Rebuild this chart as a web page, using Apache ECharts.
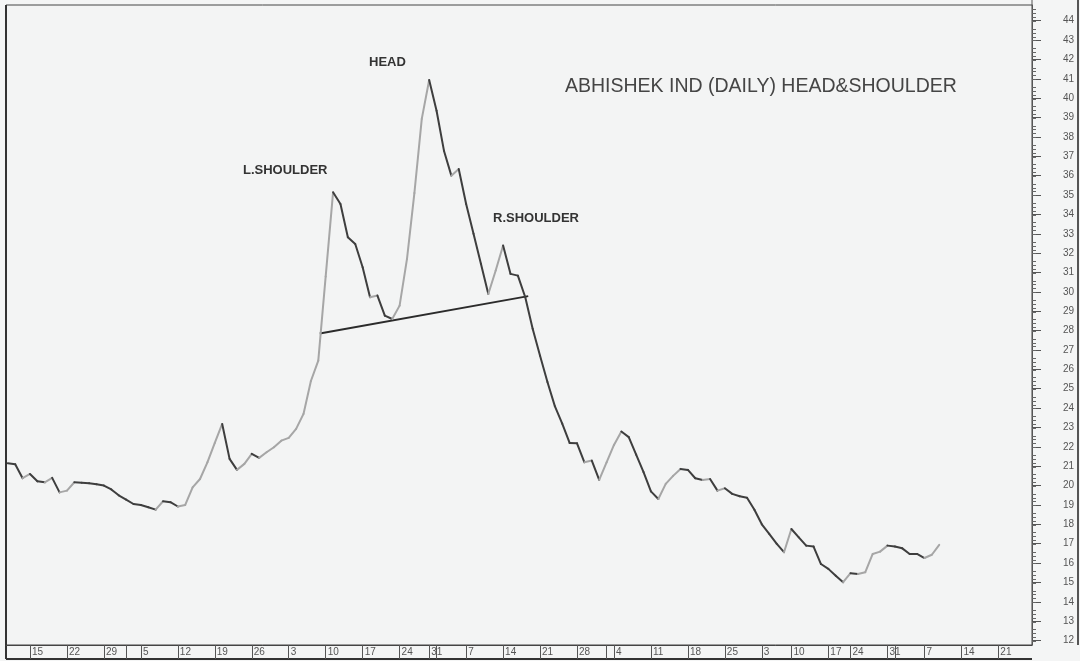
<!DOCTYPE html>
<html><head><meta charset="utf-8">
<script src="https://cdn.jsdelivr.net/npm/echarts@6/dist/echarts.min.js"></script>
<style>html,body{margin:0;padding:0;background:#f4f5f5;}#c{width:1080px;height:661px;}</style>
</head><body><div id="c"></div>
<script>
// Daily closes, trading-day index 0 = 10 Oct 2007
const prices = [
  21.15, 21.1, 20.38, 20.6, 20.22, 20.17, 20.4, 19.65, 19.74, 20.17,
  20.15, 20.12, 20.07, 20.0, 19.8, 19.5, 19.28, 19.05, 19.0, 18.88,
  18.76, 19.19, 19.14, 18.92, 19.0, 19.91, 20.34, 21.2, 22.2, 23.18,
  21.38, 20.81, 21.12, 21.64, 21.43, 21.72, 21.98, 22.32, 22.46, 22.93,
  23.7, 25.4, 26.45, 30.8, 35.14, 34.54, 32.82, 32.47, 31.27, 29.72,
  29.81, 28.77, 28.6, 29.29, 31.7, 35.1, 38.93, 40.94, 39.35, 37.29,
  36.0, 36.34, 34.54, 33.0, 31.45, 29.89, 31.1, 32.39, 30.93, 30.84,
  29.72, 28.1, 26.7, 25.35, 24.1, 23.2, 22.2, 22.18, 21.2, 21.29,
  20.29, 21.2, 22.1, 22.79, 22.5, 21.6, 20.7, 19.7, 19.31, 20.09,
  20.5, 20.86, 20.81, 20.38, 20.29, 20.34, 19.74, 19.86, 19.57, 19.45,
  19.37, 18.75, 18.0, 17.51, 17.0, 16.56, 17.76, 17.33, 16.9, 16.85,
  15.95, 15.7, 15.35, 15.01, 15.48, 15.44, 15.53, 16.47, 16.59, 16.9,
  16.85, 16.76, 16.47, 16.47, 16.26, 16.43, 16.94
];
// Weekly (Monday) ticks: trading-day index and day-of-month label
const weekTickIdx = [3, 8, 13, 18, 23, 28, 33, 38, 43, 48, 53, 57, 62, 67, 72, 77, 82, 87, 92, 97, 102, 106, 111, 114, 119, 124, 129, 134];
const weekTickLabels = ['15', '22', '29', '5', '12', '19', '26', '3', '10', '17', '24', '31', '7', '14', '21', '28', '4', '11', '18', '25', '3', '10', '17', '24', '31', '7', '14', '21'];
// First trading day of a month (extra separator)
const monthStartIdx = [16, 58, 81, 120];
const yTickValues = [12, 13, 14, 15, 16, 17, 18, 19, 20, 21, 22, 23, 24, 25, 26, 27, 28, 29, 30, 31, 32, 33, 34, 35, 36, 37, 38, 39, 40, 41, 42, 43, 44];
// Neckline end points [index, price]
const necklineStart = [42.2, 27.85];
const necklineEnd = [70.4, 29.78];

const titleText = 'ABHISHEK IND (DAILY) HEAD&SHOULDER';
const annotations = ['L.SHOULDER', 'HEAD', 'R.SHOULDER'];

const labelMap = {};
weekTickIdx.forEach((ix, k) => { labelMap[ix] = weekTickLabels[k]; });

const segs = prices.slice(0, -1).map((v, i) => [i, v, prices[i + 1]]);
const UP = '#a6a6a6', DOWN = '#3e3e3e';
const FONT = '"Liberation Sans", Arial, sans-serif';

const chart = echarts.init(document.getElementById('c'), null, {renderer: 'canvas'});
chart.setOption({
  animation: false,
  backgroundColor: '#f4f5f5',
  grid: {left: 6, right: 48, top: 5, bottom: 16, show: true, backgroundColor: '#f3f4f4', borderColor: '#444', borderWidth: 1},
  xAxis: {
    type: 'value', min: -0.246, max: 138.55, position: 'bottom',
    axisLine: {show: true, onZero: false, lineStyle: {color: '#444', width: 1}},
    axisTick: {show: true, customValues: weekTickIdx.concat(monthStartIdx), length: 14, lineStyle: {color: '#555', width: 1}},
    axisLabel: {show: true, customValues: weekTickIdx, align: 'left', margin: 2, padding: [0, 0, 0, 2],
      fontSize: 10, color: '#555', fontFamily: FONT,
      formatter: v => labelMap[Math.round(v)] || ''},
    splitLine: {show: false}
  },
  yAxis: {
    type: 'value', min: 11.77, max: 44.81, interval: 1, position: 'right',
    axisLine: {show: true, onZero: false, lineStyle: {color: '#555', width: 1}},
    axisTick: {show: true, customValues: yTickValues, length: 9, lineStyle: {color: '#555'}},
    minorTick: {show: true, splitNumber: 5, length: 4, lineStyle: {color: '#666'}},
    axisLabel: {show: true, customValues: yTickValues, margin: 31, fontSize: 10, color: '#555',
      fontFamily: '"Liberation Sans Narrow", "Liberation Sans", Arial, sans-serif'},
    splitLine: {show: false},
    minorSplitLine: {show: false}
  },
  series: [{
    type: 'line', data: [necklineStart, necklineEnd], symbol: 'none', z: 3,
    lineStyle: {color: '#2b2b2b', width: 2}
  }, {
    type: 'custom', z: 4,
    encode: {x: 0, y: [1, 2]},
    data: segs,
    renderItem: function (params, api) {
      const i = api.value(0), a = api.value(1), b = api.value(2);
      const p0 = api.coord([i, a]), p1 = api.coord([i + 1, b]);
      return {type: 'line', shape: {x1: p0[0], y1: p0[1], x2: p1[0], y2: p1[1]},
        style: {stroke: b > a ? UP : DOWN, lineWidth: 2, lineCap: 'round'}};
    }
  }],
  graphic: [
    {type: 'line', shape: {x1: 6, y1: 5, x2: 6, y2: 659}, style: {stroke: '#333', lineWidth: 2}},
    {type: 'line', shape: {x1: 6, y1: 659, x2: 1032, y2: 659}, style: {stroke: '#333', lineWidth: 2}},
    {type: 'line', shape: {x1: 1078, y1: 0, x2: 1078, y2: 645}, style: {stroke: '#555', lineWidth: 2}},
    {type: 'line', shape: {x1: 1032, y1: 0, x2: 1032, y2: 5}, style: {stroke: '#555', lineWidth: 1}},
    {type: 'text', x: 565, y: 87, style: {text: titleText, font: 'normal 19.5px ' + FONT, fill: '#454545', verticalAlign: 'middle'}},
    {type: 'text', x: 243, y: 170, style: {text: annotations[0], font: 'bold 13px ' + FONT, fill: '#333', verticalAlign: 'middle'}},
    {type: 'text', x: 369, y: 62, style: {text: annotations[1], font: 'bold 13px ' + FONT, fill: '#333', verticalAlign: 'middle'}},
    {type: 'text', x: 493, y: 218, style: {text: annotations[2], font: 'bold 13px ' + FONT, fill: '#333', verticalAlign: 'middle'}}
  ]
});
</script>
</body></html>
